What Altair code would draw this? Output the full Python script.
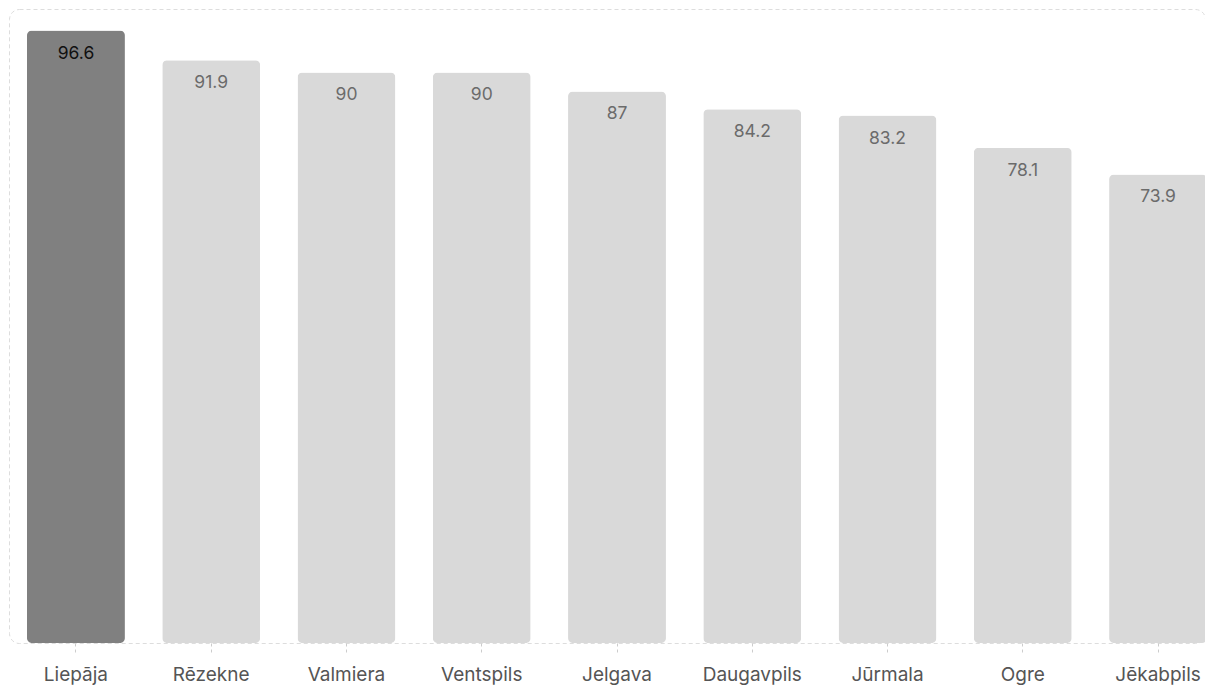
import altair as alt
import pandas as pd

cities = ["Liepāja", "Rēzekne", "Valmiera", "Ventspils", "Jelgava", "Daugavpils", "Jūrmala", "Ogre", "Jēkabpils"]
values = [96.6, 91.9, 90, 90, 87, 84.2, 83.2, 78.1, 73.9]
highlight = [True, False, False, False, False, False, False, False, False]

df = pd.DataFrame({"city": cities, "value": values, "hl": highlight})
df["label"] = df["value"].map(lambda v: f"{v:g}")

FONT = "Inter"

x = alt.X("city:N", sort=cities, title=None,
          scale=alt.Scale(paddingInner=0.276, paddingOuter=0.133, range=[0, 1216]),
          axis=alt.Axis(labelAngle=0, labelFont=FONT, labelFontSize=19, labelColor="#555555",
                        labelPadding=10, domain=False, ticks=True, tickColor="#cccccc",
                        tickDash=[3, 3], tickSize=12, tickWidth=1, grid=False))
y = alt.Y("value:Q", scale=alt.Scale(domain=[0, 100]), axis=None)

bars = alt.Chart(df).mark_bar(cornerRadius=5).encode(
    x=x, y=y,
    color=alt.Color("hl:N", scale=alt.Scale(domain=[True, False], range=["#808080", "#d9d9d9"]), legend=None),
)

text = alt.Chart(df).mark_text(baseline="top", dy=14, font=FONT, fontSize=17.5).encode(
    x=x, y=y, text="label:N",
    color=alt.Color("hl:N", scale=alt.Scale(domain=[True, False], range=["#111111", "#6b6b6b"]), legend=None),
)

chart = (bars + text).properties(
    width=1196, height=634,
    autosize=alt.AutoSizeParams(type="none"),
    padding={"left": 1, "top": 1, "right": 0, "bottom": 46},
    background="white",
).configure_view(
    stroke="#dddddd", strokeDash=[4, 3], strokeWidth=1, cornerRadius=10
).resolve_scale(color="independent")

chart.save("out.html", embed_options={"renderer": "svg", "actions": False})
